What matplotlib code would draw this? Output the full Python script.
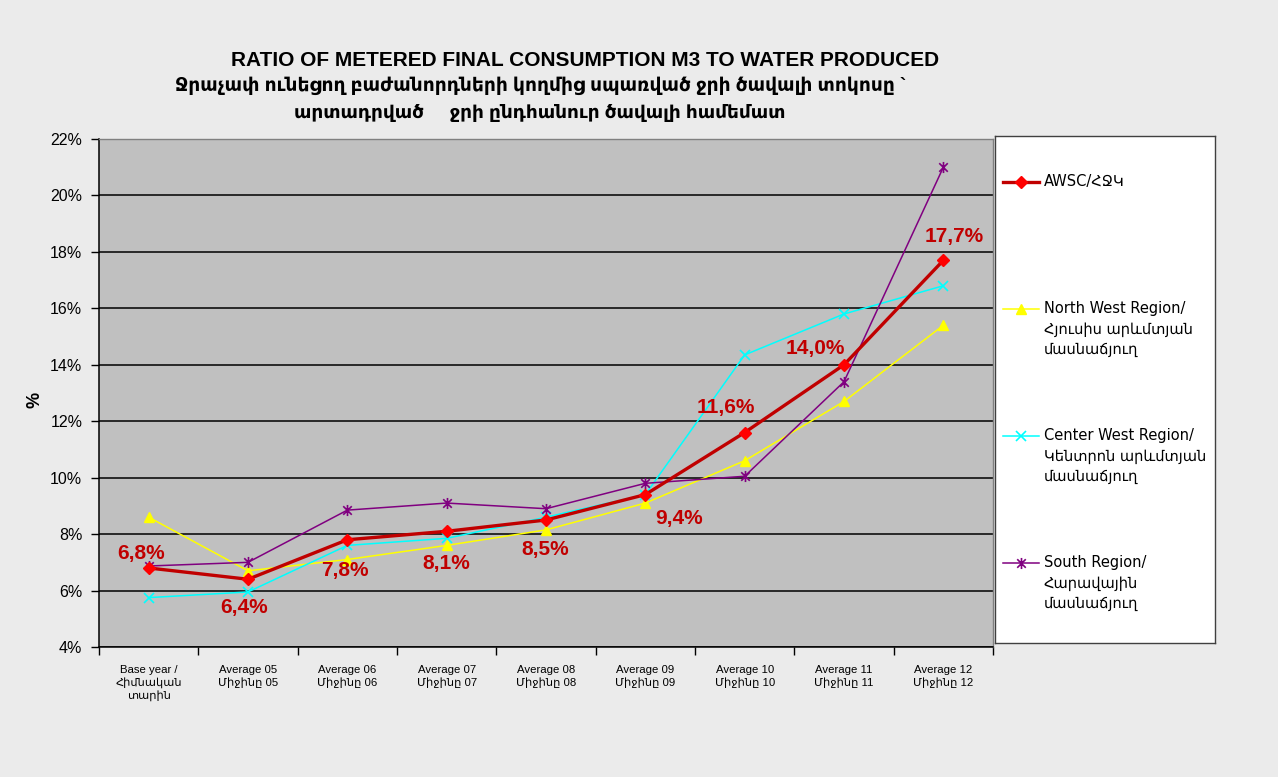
import matplotlib
matplotlib.use("Agg")
import matplotlib.pyplot as plt
from matplotlib.path import Path
import numpy as np

plt.rcParams['font.family'] = ['Liberation Sans', 'DejaVu Sans']

categories = ["Base year /\nՀիմնական\nտարին",
              "Average 05\nՄիջինը 05", "Average 06\nՄիջինը 06",
              "Average 07\nՄիջինը 07", "Average 08\nՄիջինը 08",
              "Average 09\nՄիջինը 09", "Average 10\nՄիջինը 10",
              "Average 11\nՄիջինը 11", "Average 12\nՄիջինը 12"]

awsc = [6.8, 6.4, 7.8, 8.1, 8.5, 9.4, 11.6, 14.0, 17.7]
north_west = [8.6, 6.7, 7.1, 7.6, 8.15, 9.1, 10.6, 12.7, 15.4]
center_west = [5.75, 5.95, 7.6, 7.85, 8.6, 9.4, 14.35, 15.8, 16.8]
south = [6.87, 7.0, 8.85, 9.1, 8.9, 9.8, 10.05, 13.4, 21.0]

series_names = ["AWSC/ՀՋԿ",
                "North West Region/\nՀյուսիս արևմտյան\nմասնաճյուղ",
                "Center West Region/\nԿենտրոն արևմտյան\nմասնաճյուղ",
                "South Region/\nՀարավային\nմասնաճյուղ"]

yticks = [4, 6, 8, 10, 12, 14, 16, 18, 20, 22]

title1 = "RATIO OF METERED FINAL CONSUMPTION M3 TO WATER PRODUCED"
title2 = "Ջրաչափ ունեցող բաժանորդների կողմից սպառված ջրի ծավալի տոկոսը `"
title3 = "արտադրված     ջրի ընդհանուր ծավալի համեմատ"

W, H = 1278, 777
fig = plt.figure(figsize=(W / 100, H / 100), dpi=100)
fig.patch.set_facecolor('#ebebeb')

def fx(px):
    return px / W

def fy(py):
    return 1 - py / H

# Excel-style star marker: an x plus a vertical bar
star = Path([(-1, -1), (1, 1), (-1, 1), (1, -1), (0, -1.3), (0, 1.3)],
            [Path.MOVETO, Path.LINETO, Path.MOVETO, Path.LINETO,
             Path.MOVETO, Path.LINETO])

dark_red = '#c00000'
styles = [dict(color=dark_red, lw=2.4, marker='D', ms=6, mfc='#ff0000', mec='#ff0000'),
          dict(color='#ffff00', lw=1.1, marker='^', ms=7.5, mfc='#ffff00', mec='#ffff00'),
          dict(color='#00ffff', lw=1.1, marker='x', ms=7, mew=1.2),
          dict(color='#800080', lw=1.1, marker=star, ms=8, mew=1.2)]

ax = fig.add_axes([fx(99), fy(647), fx(993) - fx(99), fy(139) - fy(647)])
ax.set_facecolor('#c0c0c0')

x = np.arange(len(categories))

ax.plot(x, north_west, zorder=3, **styles[1])
ax.plot(x, center_west, zorder=3, **styles[2])
ax.plot(x, south, zorder=3, **styles[3])
ax.plot(x, awsc, zorder=4, **styles[0])

label_offsets = [(-8, 14), (-4, -28), (-2, -31), (0, -32), (-1, -30),
                 (34, -24), (-19, 25), (-29, 16), (11, 24)]
for xi, v, (dx, dy) in zip(x, awsc, label_offsets):
    ax.annotate(f"{v:.1f}%".replace('.', ','), (xi, v),
                xytext=(dx, dy), textcoords='offset pixels',
                ha='center', va='center', fontsize=15, fontweight='bold',
                color=dark_red, zorder=5)

ax.set_xlim(-0.5, len(categories) - 0.5)
ax.set_ylim(4, 22)
ax.set_yticks(yticks)
ax.set_yticklabels([f"{t}%" for t in yticks], fontsize=11.5)
ax.yaxis.grid(True, color='black', lw=1.1)
ax.set_axisbelow(True)
ax.tick_params(axis='y', direction='out', length=6, width=1, pad=6)

ax.set_xticks(x)
ax.set_xticklabels(categories, fontsize=8.2, linespacing=1.25)
ax.tick_params(axis='x', which='major', length=0, pad=13)
ax.set_xticks(np.arange(len(categories) + 1) - 0.5, minor=True)
ax.tick_params(axis='x', which='minor', direction='out', length=6, width=1)

for s in ['left', 'bottom']:
    ax.spines[s].set_color('black')
    ax.spines[s].set_linewidth(1.1)
for s in ['top', 'right']:
    ax.spines[s].set_color('#808080')
    ax.spines[s].set_linewidth(1)

fig.text(fx(35), fy(400), "%", rotation=90, ha='center', va='center',
         fontsize=13, fontweight='bold')

fig.text(fx(585), fy(60), title1, ha='center', va='center',
         fontsize=15, fontweight='bold')
fig.text(fx(541), fy(86), title2, ha='center', va='center',
         fontsize=13.4, fontweight='bold')
fig.text(fx(540), fy(113), title3, ha='center', va='center',
         fontsize=13.3, fontweight='bold')

# legend box
lax = fig.add_axes([fx(995), fy(643), fx(1215) - fx(995), fy(136) - fy(643)])
lax.set_facecolor('white')
lax.set_xlim(0, 220)
lax.set_ylim(507, 0)
lax.set_xticks([])
lax.set_yticks([])
for s in lax.spines.values():
    s.set_color('#404040')
    s.set_linewidth(1)

entry_y = [46, 173, 300, 427]
for name, st, yy in zip(series_names, styles, entry_y):
    line_st = {k: v for k, v in st.items() if not k.startswith('m')}
    mark_st = {k: v for k, v in st.items() if k != 'lw'}
    lax.plot([8, 44], [yy, yy], **line_st)
    lax.plot([26], [yy], linestyle='none', **mark_st)
    lax.text(49, yy - 8, name, ha='left', va='top', fontsize=10.5,
             linespacing=1.45, family=['DejaVu Sans'])

fig.savefig("out.png", dpi=100, facecolor=fig.get_facecolor())
